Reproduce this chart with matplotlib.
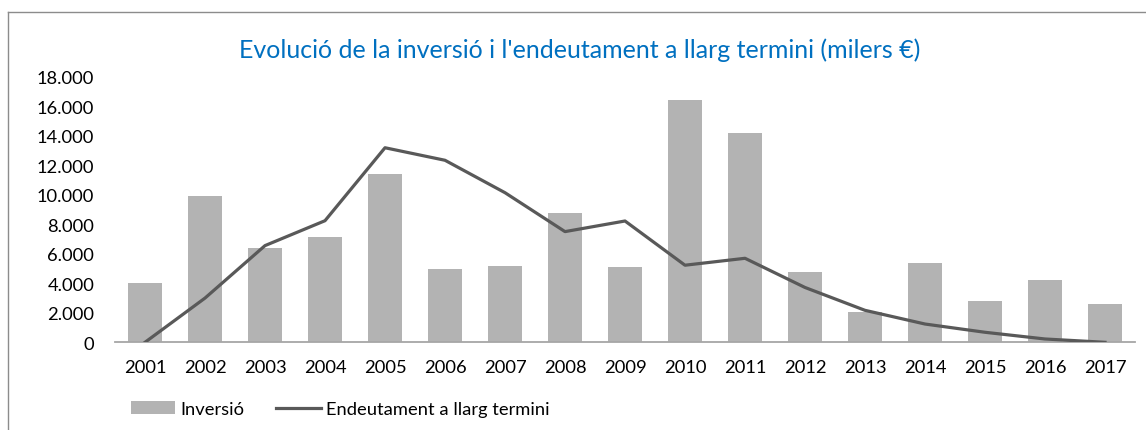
import matplotlib
matplotlib.use("Agg")
import matplotlib.pyplot as plt
from matplotlib.lines import Line2D
from matplotlib.ticker import FuncFormatter

plt.rcParams['font.family'] = ['Lato', 'DejaVu Sans']

years = ['2001', '2002', '2003', '2004', '2005', '2006', '2007', '2008', '2009',
         '2010', '2011', '2012', '2013', '2014', '2015', '2016', '2017']
inversio = [4000, 9900, 6430, 7150, 11400, 4960, 5160, 8750, 5100,
            16450, 14180, 4800, 2070, 5370, 2800, 4220, 2590]
endeutament = [0, 3000, 6560, 8250, 13200, 12350, 10150, 7510, 8230,
               5230, 5700, 3720, 2170, 1240, 680, 225, 0]
yticks = [0, 2000, 4000, 6000, 8000, 10000, 12000, 14000, 16000, 18000]

W, H = 1146, 431
fig = plt.figure(figsize=(W / 100, H / 100), dpi=100)
ax = fig.add_axes([115 / W, (H - 343.3) / H, (1135 - 115) / W, (343.3 - 78) / H])

x = list(range(len(years)))
bars = ax.bar(x, inversio, width=0.567, color='#B3B3B3', label='Inversió', zorder=2)
line, = ax.plot(x, endeutament, color='#595959', lw=2.3, label='Endeutament a llarg termini', zorder=3)

ax.set_xlim(-0.5, len(years) - 0.5)
ax.set_ylim(0, 18000)
ax.set_yticks(yticks)
ax.yaxis.set_major_formatter(FuncFormatter(lambda v, p: f"{int(v):,}".replace(',', '.')))
ax.set_xticks(x)
ax.set_xticklabels(years)
ax.tick_params(axis='both', length=0, labelsize=13.2, colors='#000000')
ax.tick_params(axis='y', pad=15)
ax.tick_params(axis='x', pad=12)
for s in ['top', 'right', 'left']:
    ax.spines[s].set_visible(False)
ax.spines['bottom'].set_color('#A6A6A6')
ax.spines['bottom'].set_linewidth(1.3)

fig.text(580 / W, (H - 50) / H, "Evolució de la inversió i l'endeutament a llarg termini (milers €)",
         ha='center', va='center', color='#0070C0', fontsize=18)

leg = fig.legend([bars, line], ['Inversió', 'Endeutament a llarg termini'],
                 loc='center left', bbox_to_anchor=(114 / W, (H - 410) / H), ncol=2,
                 frameon=False, fontsize=13.2, handlelength=2.45, handleheight=0.75,
                 columnspacing=1.75, handletextpad=0.25)

fig.add_artist(Line2D([8 / W, 1.0], [(H - 13) / H, (H - 13) / H], transform=fig.transFigure,
                      color='#8C8C8C', lw=1.0))
fig.add_artist(Line2D([8 / W, 8 / W], [0, (H - 13) / H], transform=fig.transFigure,
                      color='#8C8C8C', lw=1.0))

fig.savefig('out.png', dpi=100)
